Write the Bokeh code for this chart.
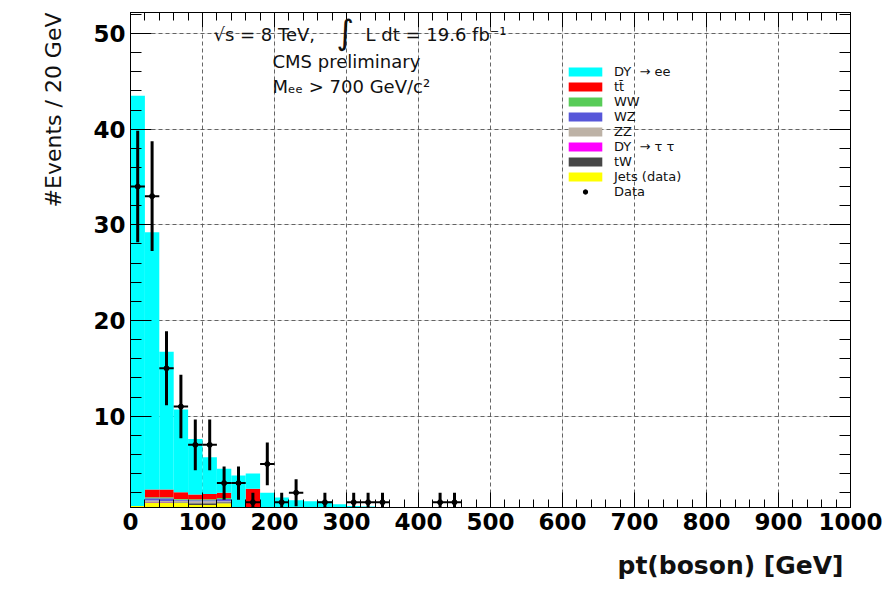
import numpy as np
from bokeh.plotting import figure
from bokeh.models import (ColumnDataSource, Range1d, LinearAxis, SingleIntervalTicker,
                          CustomJSTickFormatter, Label, Legend, LegendItem, Grid, Title)
from bokeh.embed import file_html
from bokeh.resources import INLINE

# ---------------- data (20 GeV bins, 0 .. 1000 GeV) ----------------
bin_width = 20
bin_left = np.arange(0, 1000, bin_width)

dy_ee = [42.9, 26.9, 14.4, 8.65, 5.8, 3.85, 2.5, 3.8, 1.6, 2.0,
         1.5, 1.2, 1.1, 1.1, 0.8, 0.6, 0.55, 0.5, 0.5, 0.5,
         0.5, 0.5, 0.5, 0.5, 0.5, 0.5, 0.4, 0.35, 0.3, 0.3,
         0.25, 0.2, 0.2, 0.15, 0.15, 0.1, 0.1, 0.1, 0.1, 0.05,
         0.05, 0.05, 0.05, 0.05, 0.0, 0.0, 0.0, 0.0, 0.0, 0.0]
ttbar = [0.0, 0.8, 0.8, 0.7, 0.5, 0.55, 0.55, 0.0, 2.4, 0.0,
         0, 0, 0, 0, 0, 0, 0, 0, 0, 0, 0, 0, 0, 0, 0,
         0, 0, 0, 0, 0, 0, 0, 0, 0, 0, 0, 0, 0, 0, 0,
         0, 0, 0, 0, 0, 0, 0, 0, 0, 0]
ww = [0.0, 0.1, 0.1, 0.1, 0.1, 0.1, 0.1, 0.0, 0.0, 0.0,
      0, 0, 0, 0, 0, 0, 0, 0, 0, 0, 0, 0, 0, 0, 0,
      0, 0, 0, 0, 0, 0, 0, 0, 0, 0, 0, 0, 0, 0, 0,
      0, 0, 0, 0, 0, 0, 0, 0, 0, 0]
wz = [0.0, 0.25, 0.3, 0.1, 0.1, 0.1, 0.25, 0.0, 0.0, 0.0,
      0, 0, 0, 0, 0, 0, 0, 0, 0, 0, 0, 0, 0, 0, 0,
      0, 0, 0, 0, 0, 0, 0, 0, 0, 0, 0, 0, 0, 0, 0,
      0, 0, 0, 0, 0, 0, 0, 0, 0, 0]
zz = [0.0, 0.15, 0.1, 0.15, 0.2, 0.2, 0.1, 0.0, 0.0, 0.0,
      0, 0, 0, 0, 0, 0, 0, 0, 0, 0, 0, 0, 0, 0, 0,
      0, 0, 0, 0, 0, 0, 0, 0, 0, 0, 0, 0, 0, 0, 0,
      0, 0, 0, 0, 0, 0, 0, 0, 0, 0]
dy_tautau = [0.0, 0.02, 0.02, 0.0, 0.0, 0.0, 0.0, 0.0, 0.0, 0.0,
             0, 0, 0, 0, 0, 0, 0, 0, 0, 0, 0, 0, 0, 0, 0,
             0, 0, 0, 0, 0, 0, 0, 0, 0, 0, 0, 0, 0, 0, 0,
             0, 0, 0, 0, 0, 0, 0, 0, 0, 0]
tw = [0.0, 0.05, 0.05, 0.05, 0.2, 0.2, 0.1, 0.0, 0.0, 0.0,
      0, 0, 0, 0, 0, 0, 0, 0, 0, 0, 0, 0, 0, 0, 0,
      0, 0, 0, 0, 0, 0, 0, 0, 0, 0, 0, 0, 0, 0, 0,
      0, 0, 0, 0, 0, 0, 0, 0, 0, 0]
jets = [0.6, 0.95, 0.95, 0.95, 0.7, 0.7, 0.9, 0.0, 0.0, 0.0,
        0, 0, 0, 0, 0, 0, 0, 0, 0, 0, 0, 0, 0, 0, 0,
        0, 0, 0, 0, 0, 0, 0, 0, 0, 0, 0, 0, 0, 0, 0,
        0, 0, 0, 0, 0, 0, 0, 0, 0, 0]
data_counts = [34, 33, 15, 11, 7, 7, 3, 3, 1, 5,
               1, 2, 0, 1, 0, 1, 1, 1, 0, 0,
               0, 1, 1, 0, 0, 0, 0, 0, 0, 0,
               0, 0, 0, 0, 0, 0, 0, 0, 0, 0,
               0, 0, 0, 0, 0, 0, 0, 0, 0, 0]

y_title = "#Events / 20 GeV"
x_title = "pt(boson) [GeV]"

# stack order bottom -> top, with legend labels and colours
stack = [
    ("Jets (data)", jets, "#FFFF00"),
    ("tW", tw, "#474747"),
    ("DY  → τ τ", dy_tautau, "#FF00FF"),
    ("ZZ", zz, "#BDB2A6"),
    ("WZ", wz, "#5757D9"),
    ("WW", ww, "#58CC58"),
    ("tt̄", ttbar, "#FF0000"),
    ("DY  → ee", dy_ee, "#00FFFF"),
]
legend_order = ["DY  → ee", "tt̄", "WW", "WZ", "ZZ", "DY  → τ τ", "tW", "Jets (data)"]

FONT = "DejaVu Sans"

p = figure(width=885, height=595, output_backend="svg", toolbar_location=None,
           x_range=Range1d(0, 1000), y_range=Range1d(0.45, 52.2),
           min_border_left=130, min_border_right=35, min_border_top=12,
           min_border_bottom=87, x_axis_location=None, y_axis_location=None)
p.background_fill_color = "white"
p.border_fill_color = "white"
p.outline_line_color = "black"
p.outline_line_width = 1

# stacked histograms
renderers = {}
base = np.zeros(len(bin_left))
for label, vals, color in stack:
    vals = np.array(vals, dtype=float)
    src = ColumnDataSource(dict(left=bin_left, right=bin_left + bin_width,
                                bottom=base.copy(), top=base + vals))
    r = p.quad(left="left", right="right", bottom="bottom", top="top", source=src,
               fill_color=color, line_color=None)
    renderers[label] = r
    base = base + vals

# data points with errors
d = np.array(data_counts, dtype=float)
mask = d > 0
centers = bin_left + bin_width / 2
dsrc = ColumnDataSource(dict(x=centers[mask], y=d[mask],
                             lo=d[mask] - np.sqrt(d[mask]), hi=d[mask] + np.sqrt(d[mask]),
                             xl=bin_left[mask], xr=bin_left[mask] + bin_width))
p.segment(x0="x", y0="lo", x1="x", y1="hi", source=dsrc, line_color="black", line_width=3)
p.segment(x0="xl", y0="y", x1="xr", y1="y", source=dsrc, line_color="black", line_width=2)
r_data = p.scatter(x="x", y="y", source=dsrc, marker="circle", size=5,
                   fill_color="black", line_color="black")

# axes
xt = SingleIntervalTicker(interval=100, num_minor_ticks=5)
yt = SingleIntervalTicker(interval=10, num_minor_ticks=5)
blank = CustomJSTickFormatter(code="return ''")

def style(ax, tin, mtin):
    ax.major_tick_in = tin
    ax.major_tick_out = 0
    ax.minor_tick_in = mtin
    ax.minor_tick_out = 0
    ax.axis_line_color = "black"
    ax.major_tick_line_color = "black"
    ax.minor_tick_line_color = "black"
    ax.major_label_text_font = FONT
    ax.major_label_text_font_style = "bold"
    ax.major_label_text_font_size = "23px"
    ax.major_label_text_color = "black"

xb = LinearAxis(ticker=xt)
style(xb, 15, 8)
xb.major_label_standoff = 5

xtop = LinearAxis(ticker=xt, formatter=blank)
style(xtop, 15, 8)

yl = LinearAxis(ticker=yt)
style(yl, 21, 11)
yl.major_label_standoff = 5

yr = LinearAxis(ticker=yt, formatter=blank)
style(yr, 21, 11)

p.add_layout(xb, "below")
p.add_layout(xtop, "above")
p.add_layout(yl, "left")
p.add_layout(yr, "right")

# axis titles (ROOT style: aligned to the far end of each axis)
ty = Title(text=y_title, align="right", text_font=FONT, text_font_size="22px",
           text_font_style="normal", text_color="#111111", standoff=50)
p.add_layout(ty, "left")
tx = Title(text=x_title, align="right", text_font=FONT, text_font_size="25px",
           text_font_style="bold", text_color="#111111", standoff=32, offset=7)
p.add_layout(tx, "below")

# grid
for dim, tk in ((0, xt), (1, yt)):
    g = Grid(dimension=dim, ticker=tk, grid_line_color="#555555", grid_line_dash="4 3",
             grid_line_width=1, grid_line_alpha=0.9)
    p.add_layout(g)

# legend
items = [LegendItem(label=lab, renderers=[renderers[lab]]) for lab in legend_order]
items.append(LegendItem(label="Data", renderers=[r_data]))
leg = Legend(items=items, location=(434, 308), orientation="vertical",
             glyph_width=42, glyph_height=11, label_standoff=8, spacing=0,
             padding=0, margin=0, border_line_color=None, background_fill_alpha=0,
             label_text_font=FONT, label_text_font_size="13px", label_height=14,
             label_text_color="#111111")
p.add_layout(leg)

# annotations (frame-relative screen units)
def lab(text, x, y, size, align="left", angle=0.0, style="normal", baseline="middle"):
    p.add_layout(Label(x=x, y=y, x_units="screen", y_units="screen", text=text,
                       text_font=FONT, text_font_size=size, text_font_style=style,
                       text_align=align, text_baseline=baseline, angle=angle,
                       text_color="#111111"))

lab("√s = 8 TeV,", 83, 473, "18px")
lab("∫", 206, 476, "34px")
lab("L dt = 19.6 fb⁻¹", 235, 473, "18px")
lab("CMS preliminary", 142, 446, "18px")
lab("Mₑₑ > 700 GeV/c²", 142, 421, "18px")

open("out.html", "w").write(file_html(p, INLINE))
